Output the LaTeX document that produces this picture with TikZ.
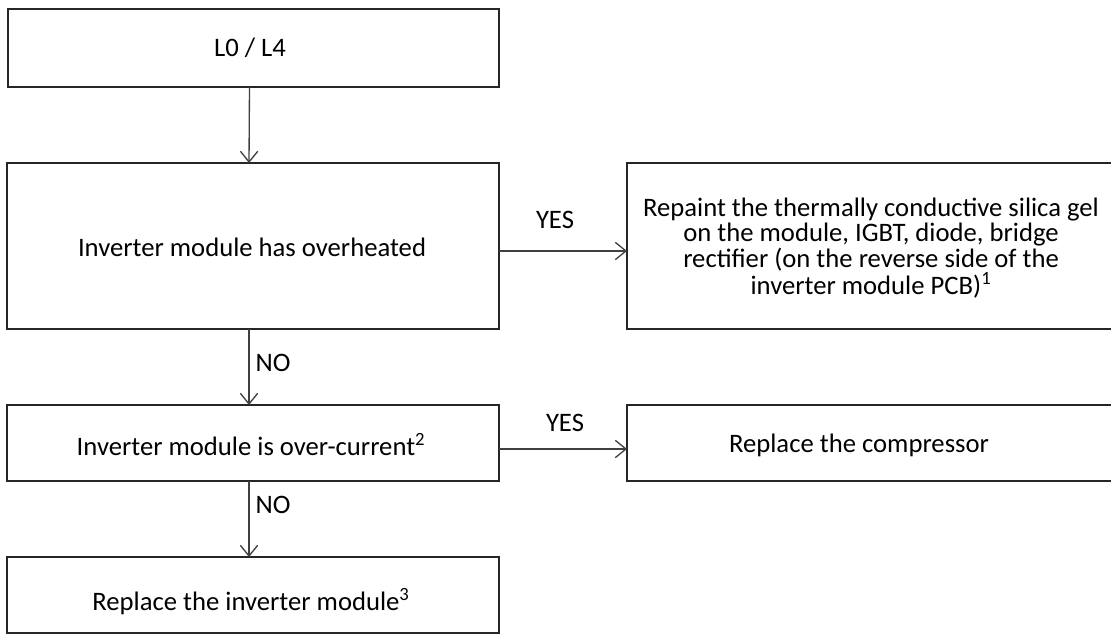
\documentclass[tikz,border=0pt]{standalone}
\usepackage{fontspec}
\setmainfont{Carlito}
\usetikzlibrary{arrows.meta}
\begin{document}
\begin{tikzpicture}[x=0.75pt,y=-0.75pt,
  boxnode/.style={draw=black!85,line width=1.2pt,inner sep=0pt,outer sep=0pt,anchor=north west},
  openbox/.style={inner sep=0pt,outer sep=0pt,anchor=north west},
  edge/.style={draw=black!85,line width=1.2pt},
  txt/.style={inner sep=0pt,font=\fontsize{20pt}{19.2pt}\selectfont,align=center,text=black},
  lbl/.style={inner sep=0pt,font=\fontsize{20pt}{19.2pt}\selectfont,text=black},
  arr/.style={draw=black!75,line width=1pt,-{Straight Barb[length=8pt,width=13pt,line width=1pt]}}]
\useasboundingbox (0,0) rectangle (1111,635);
\clip (0,0) rectangle (1111,635);
% boxes
\node[boxnode,minimum width=368.25pt,minimum height=58.5pt] (b1) at (8,9) {};
\node[boxnode,minimum width=369pt,minimum height=124.5pt] (b2) at (7,163) {};
\node[openbox,minimum width=363pt,minimum height=124.5pt] (b3) at (627,163) {};
\draw[edge] ([xshift=2pt]b3.north east) -- (b3.north west) -- (b3.south west) -- ([xshift=2pt]b3.south east);
\node[boxnode,minimum width=369pt,minimum height=57pt] (b4) at (7,405) {};
\node[openbox,minimum width=363pt,minimum height=57pt] (b5) at (627,405) {};
\draw[edge] ([xshift=2pt]b5.north east) -- (b5.north west) -- (b5.south west) -- ([xshift=2pt]b5.south east);
\node[boxnode,minimum width=369pt,minimum height=57pt] (b6) at (7,557) {};
% texts
\node[txt] (t1) at (250,48) {L0 / L4};
\node[txt] (t2) at (252,247) {Inverter module has overheated};
\node[txt] (t3) at (871,248) {Repaint the thermally conductive silica gel\\on the module, IGBT, diode, bridge\\rectifier (on the reverse side of the\\inverter module PCB)\textsuperscript{1}};
\node[txt] (t4) at (251,445) {Inverter module is over-current\textsuperscript{2}};
\node[txt] (t5) at (859,445) {Replace the compressor};
\node[txt] (t6) at (251,602) {Replace the inverter module\textsuperscript{3}};
% connector start points
\coordinate (s1) at ([yshift=-3.75pt]b2.east);
\coordinate (s2) at ([yshift=-4.5pt]b4.east);
% connectors
\draw[arr] ([xshift=-3pt]b1.south) -- ([xshift=-3pt]b2.north);
\draw[arr] (s1) -- (s1 -| b3.west);
\draw[arr] ([xshift=-3pt]b2.south) -- ([xshift=-3pt]b4.north);
\draw[arr] (s2) -- (s2 -| b5.west);
\draw[arr] ([xshift=-3pt]b4.south) -- ([xshift=-3pt]b6.north);
% labels
\node[lbl] (y1) at (555,220) {YES};
\node[lbl] (y2) at (565,423) {YES};
\node[lbl] (n1) at (273,363) {NO};
\node[lbl] (n2) at (273,505) {NO};
\end{tikzpicture}
\end{document}
